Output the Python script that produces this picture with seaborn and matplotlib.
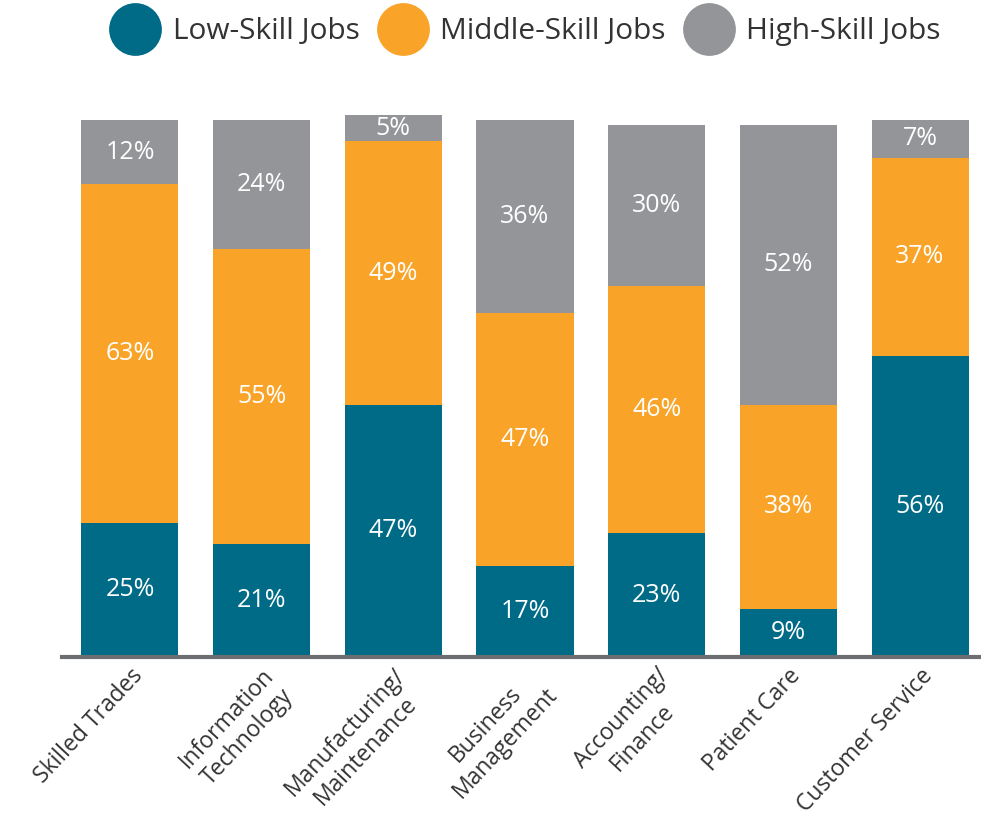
import matplotlib
matplotlib.use("Agg")
import matplotlib.pyplot as plt
import seaborn as sns
import pandas as pd
import numpy as np
from matplotlib.lines import Line2D

categories = ["Skilled Trades", "Information\nTechnology", "Manufacturing/\nMaintenance",
              "Business\nManagement", "Accounting/\nFinance", "Patient Care", "Customer Service"]
low = [25, 21, 47, 17, 23, 9, 56]
middle = [63, 55, 49, 47, 46, 38, 37]
high = [12, 24, 5, 36, 30, 52, 7]
series_names = ["Low-Skill Jobs", "Middle-Skill Jobs", "High-Skill Jobs"]
colors = ["#006B87", "#F9A428", "#939598"]

sns.set_theme(style="white")
plt.rcParams['font.family'] = ['Open Sans', 'DejaVu Sans']

fig = plt.figure(figsize=(9.81, 8.26), dpi=100)
ax = fig.add_axes([62/981, 1 - 657/826, (981-62)/981, 105*5.37/826])

df = pd.DataFrame({"cat": categories, "low": low, "middle": middle, "high": high})
bottom = np.zeros(len(categories))
for col, name, c in zip(["low", "middle", "high"], series_names, colors):
    vals = df[col].to_numpy(dtype=float)
    sns.barplot(x=df["cat"], y=vals, bottom=bottom, color=c, width=0.737,
                ax=ax, saturation=1, linewidth=0)
    for i, v in enumerate(vals):
        ax.text(i, bottom[i] + v/2, f"{int(v)}%", ha="center", va="center",
                color="white", fontsize=18)
    bottom = bottom + vals

ax.set_xlim(-0.516, 6.463)
ax.set_ylim(0, 105)
ax.set_yticks([])
ax.set_xlabel("")
ax.set_ylabel("")
for s in ["top", "right", "left"]:
    ax.spines[s].set_visible(False)
ax.spines["bottom"].set_color("#6d6e71")
ax.spines["bottom"].set_linewidth(3)
ax.tick_params(axis="x", length=0, pad=5)
ax.set_xticks(range(len(categories)))
ax.set_xticklabels(categories, rotation=47, ha="right", rotation_mode="anchor",
                   fontsize=16.5, color="#333333", multialignment="center")

handles = [Line2D([0], [0], marker="o", color="w", markerfacecolor=c, markersize=39,
                  linestyle="") for c in colors]
fig.legend(handles, series_names, loc="center", bbox_to_anchor=(527/981, 1 - 32/826),
           ncol=3, frameon=False, fontsize=21.5, handletextpad=0.5, columnspacing=0.7,
           handlelength=1.5, labelcolor="#333333")

fig.savefig("out.png", dpi=100)
